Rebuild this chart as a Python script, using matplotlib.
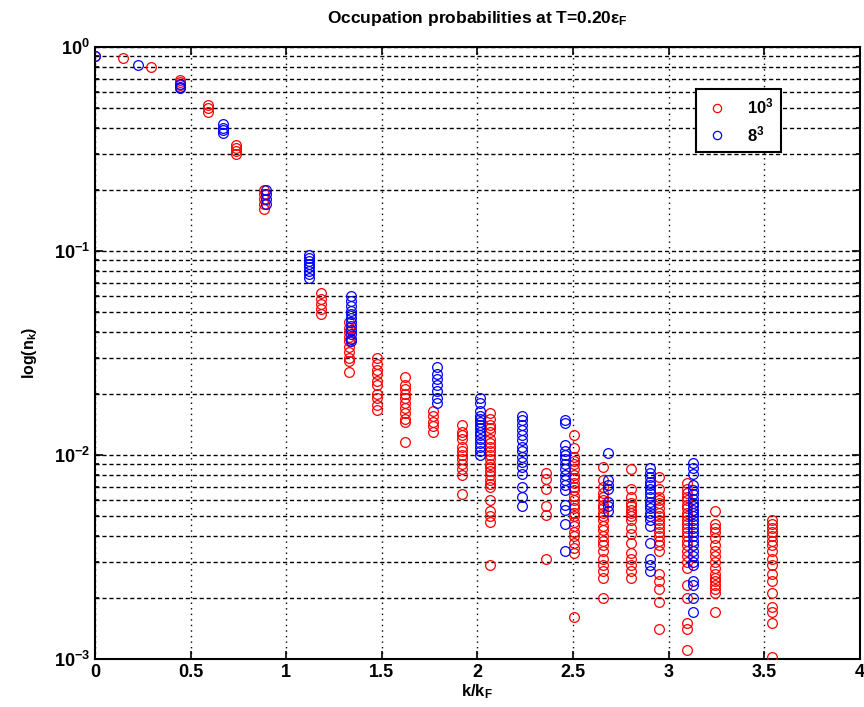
import matplotlib
matplotlib.use("Agg")
import matplotlib.pyplot as plt
import numpy as np
from matplotlib.ticker import LogLocator

plt.rcParams['font.family'] = ['Liberation Sans', 'DejaVu Sans']
plt.rcParams['font.weight'] = 'bold'
plt.rcParams['mathtext.default'] = 'regular'

# 10^3 lattice: shell positions k/kF and occupation values per shell
red_k = [0.0, 0.1475, 0.295, 0.4425, 0.59, 0.7375, 0.885, 1.18, 1.3275, 1.475,
         1.6225, 1.77, 1.9175, 2.065, 2.36, 2.5075, 2.655, 2.8025, 2.95, 3.0975,
         3.245, 3.54]
red_n = [
    [0.90],
    [0.88],
    [0.80],
    [0.69, 0.67, 0.65],
    [0.52, 0.50, 0.48],
    [0.33, 0.32, 0.31, 0.30],
    [0.20, 0.19, 0.18, 0.17, 0.16],
    [0.062, 0.058, 0.055, 0.052, 0.049],
    [0.045, 0.042, 0.040, 0.038, 0.036, 0.034, 0.032, 0.030, 0.029, 0.0255],
    [0.030, 0.028, 0.026, 0.025, 0.023, 0.022, 0.020, 0.019, 0.0175, 0.0167],
    [0.024, 0.022, 0.021, 0.020, 0.019, 0.018, 0.017, 0.016, 0.015, 0.0145, 0.0116],
    [0.0165, 0.0155, 0.0145, 0.0138, 0.013],
    [0.014, 0.013, 0.0125, 0.012, 0.011, 0.0105, 0.010, 0.0095, 0.009, 0.0085,
     0.008, 0.0064],
    [0.016, 0.015, 0.014, 0.0135, 0.013, 0.012, 0.0115, 0.011, 0.0105, 0.010,
     0.0095, 0.009, 0.0087, 0.0083, 0.008, 0.0075, 0.0072, 0.007, 0.006, 0.0053,
     0.005, 0.0047, 0.0029],
    [0.0082, 0.0076, 0.0068, 0.0056, 0.0051, 0.0031],
    [0.0125, 0.0108, 0.0098, 0.0093, 0.009, 0.0085, 0.008, 0.0077, 0.0073, 0.007,
     0.0067, 0.0063, 0.006, 0.0057, 0.0055, 0.0052, 0.005, 0.0047, 0.0045, 0.0042,
     0.004, 0.0037, 0.0035, 0.0033, 0.0016],
    [0.0087, 0.0075, 0.007, 0.0065, 0.0062, 0.006, 0.0057, 0.0055, 0.0052, 0.005,
     0.0048, 0.0045, 0.0043, 0.004, 0.0038, 0.0036, 0.0034, 0.0031, 0.0029, 0.0027,
     0.0025, 0.002],
    [0.0085, 0.0068, 0.0062, 0.0058, 0.0056, 0.0054, 0.0052, 0.005, 0.0048, 0.0044,
     0.0041, 0.0037, 0.0033, 0.0031, 0.0029, 0.0027, 0.0025],
    [0.0078, 0.0068, 0.0062, 0.006, 0.0058, 0.0055, 0.0052, 0.005, 0.0048, 0.0046,
     0.0044, 0.0042, 0.004, 0.0038, 0.0036, 0.0034, 0.0026, 0.0024, 0.0022, 0.0019,
     0.0014],
    [0.0073, 0.0068, 0.0065, 0.0062, 0.006, 0.0057, 0.0055, 0.0052, 0.005, 0.0048,
     0.0046, 0.0044, 0.0042, 0.004, 0.0038, 0.0036, 0.0034, 0.0032, 0.003, 0.0028,
     0.0023, 0.002, 0.0015, 0.0014, 0.0011],
    [0.0053, 0.0046, 0.0044, 0.0042, 0.0039, 0.0036, 0.0034, 0.0032, 0.003, 0.0028,
     0.0026, 0.0025, 0.0024, 0.0023, 0.0022, 0.0021, 0.0017],
    [0.0048, 0.0046, 0.0044, 0.0042, 0.004, 0.0038, 0.0036, 0.0034, 0.0031, 0.0029,
     0.0026, 0.0024, 0.0021, 0.0018, 0.0017, 0.0015, 0.00102],
]

# 8^3 lattice
blue_k = [0.0, 0.2235, 0.447, 0.6705, 0.894, 1.1175, 1.341, 1.788, 2.0115, 2.235,
          2.4585, 2.682, 2.9055, 3.129]
blue_n = [
    [0.90],
    [0.82],
    [0.66, 0.64, 0.63],
    [0.42, 0.40, 0.39, 0.38],
    [0.20, 0.19, 0.18, 0.17],
    [0.096, 0.092, 0.089, 0.086, 0.083, 0.080, 0.077, 0.074],
    [0.060, 0.057, 0.054, 0.051, 0.049, 0.047, 0.045, 0.043, 0.041, 0.039, 0.037,
     0.036],
    [0.027, 0.025, 0.0235, 0.022, 0.0205, 0.019, 0.018],
    [0.019, 0.018, 0.0165, 0.0155, 0.015, 0.0145, 0.014, 0.0135, 0.013, 0.0125,
     0.012, 0.0115, 0.011, 0.0105, 0.010],
    [0.0155, 0.0148, 0.014, 0.0132, 0.0125, 0.0118, 0.011, 0.0105, 0.0098, 0.0092,
     0.0087, 0.0081, 0.0070, 0.0062, 0.0056],
    [0.0148, 0.0143, 0.0112, 0.0105, 0.010, 0.0095, 0.009, 0.0085, 0.008, 0.0075,
     0.0071, 0.0067, 0.0057, 0.0054, 0.0046, 0.0034],
    [0.0102, 0.0075, 0.0071, 0.0068, 0.0059, 0.0056, 0.0053],
    [0.0086, 0.0082, 0.0078, 0.0074, 0.0071, 0.0068, 0.0065, 0.0062, 0.0059, 0.0057,
     0.0055, 0.0052, 0.005, 0.0048, 0.0045, 0.0037, 0.0031, 0.0029, 0.0027],
    [0.0091, 0.0086, 0.0081, 0.0071, 0.0067, 0.0064, 0.0061, 0.0058, 0.0056, 0.0054,
     0.0052, 0.005, 0.0048, 0.0046, 0.0044, 0.0042, 0.004, 0.0038, 0.0036, 0.0034,
     0.0032, 0.003, 0.0029, 0.0024, 0.0023, 0.002, 0.0017],
]

red_x = np.repeat(red_k, [len(v) for v in red_n])
red_y = np.concatenate(red_n)
blue_x = np.repeat(blue_k, [len(v) for v in blue_n])
blue_y = np.concatenate(blue_n)

fig = plt.figure(figsize=(8.64, 7.07), dpi=100)
ax = fig.add_axes([0.110, 0.068, 0.885, 0.8655])

ax.semilogy(red_x, red_y, 'o', mfc='none', mec=(1, 0, 0), ms=7, mew=0.9,
            label='10$^3$', zorder=3)
ax.semilogy(blue_x, blue_y, 'o', mfc='none', mec=(0, 0, 1), ms=7, mew=0.9,
            label='8$^3$', zorder=3)

ax.set_xlim(0, 4)
ax.set_ylim(1e-3, 1)
ax.set_xticks(np.arange(0, 4.01, 0.5))
ax.set_xticklabels(['0', '0.5', '1', '1.5', '2', '2.5', '3', '3.5', '4'])
ax.yaxis.set_minor_locator(LogLocator(base=10, subs=np.arange(2, 10), numticks=20))

ax.grid(True, axis='x', which='major', color='k', linestyle=(0, (1, 3)), linewidth=1.0)
ax.grid(True, axis='y', which='both', color='k', linestyle=(0, (3, 2)), linewidth=1.0)
ax.set_axisbelow(True)

ax.tick_params(which='both', direction='in', top=True, right=True, labelsize=13,
               width=1.2)
ax.tick_params(which='major', length=6)
ax.tick_params(which='minor', length=3)
for s in ax.spines.values():
    s.set_linewidth(1.5)

ax.set_title('Occupation probabilities at T=0.20$\\epsilon_F$', fontsize=12.5,
             fontweight='bold', pad=17)
ax.set_xlabel('k/k$_F$', fontsize=12, fontweight='bold', labelpad=1)
ax.set_ylabel('log(n$_k$)', fontsize=11.5, fontweight='bold', labelpad=11)

leg = ax.legend(loc='upper right', bbox_to_anchor=(0.897, 0.931), borderaxespad=0,
                fontsize=12, frameon=True, fancybox=False, edgecolor='k',
                handletextpad=1.0, handlelength=1.6, borderpad=0.45,
                labelspacing=0.45, markerscale=0.85)
leg.get_frame().set_linewidth(1.5)
leg.get_frame().set_alpha(1)

fig.savefig('out.png', dpi=100)
